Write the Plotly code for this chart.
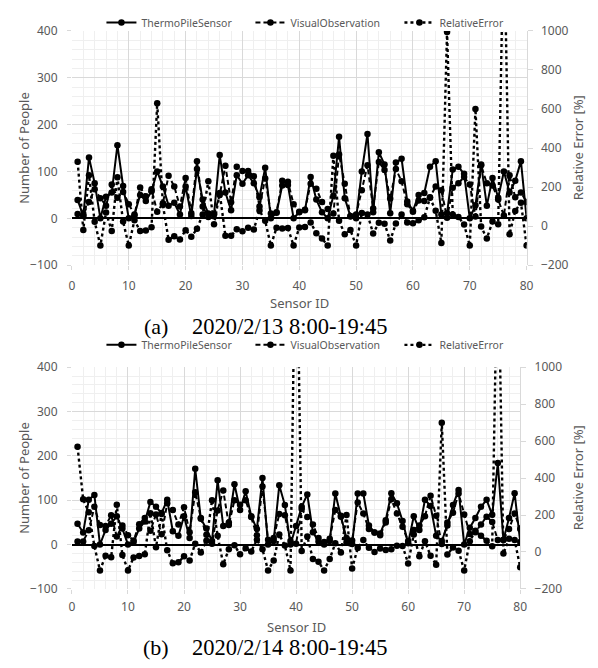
import plotly.graph_objects as go

# ---------------- data ----------------
sensor_ids = list(range(1, 81))

# (a) 2020/2/13
feb13_thermo = [39, 5, 130, 75, 0, 46, 55, 156, 69, 0,
                8, 50, 37, 58, 100, 68, 27, 33, 8, 68,
                5, 105, 40, 10, 9, 135, 55, 17, 92, 74,
                92, 75, 45, 108, 0, 12, 70, 71, 0, 13,
                17, 88, 40, 13, 0, 48, 174, 43, 4, 0,
                100, 180, 13, 141, 115, 11, 119, 127, 36, 16,
                50, 54, 110, 122, 8, 11, 104, 110, 95, 0,
                28, 115, 27, 86, 44, 100, 55, 80, 122, 0]
feb13_visual = [9, 7, 35, 62, 43, 27, 72, 44, 56, 30,
                6, 66, 47, 62, 14, 32, 91, 68, 25, 86,
                11, 122, 25, 3, 8, 50, 112, 34, 110, 101,
                101, 90, 25, 85, 10, 13, 80, 78, 30, 14,
                18, 74, 63, 35, 20, 10, 136, 74, 5, 8,
                60, 113, 21, 120, 103, 42, 105, 79, 30, 14,
                38, 37, 45, 68, 60, 1, 65, 75, 88, 72,
                4, 113, 75, 70, 40, 6, 92, 45, 55, 35]
feb13_relerr = [330, -20, 260, 22, -100, 70, -25, 250, 23, -100,
                30, -25, -22, -6, 630, 110, -70, -52, -68, -21,
                -55, -14, 60, 230, 10, 170, -50, -50, -16, -27,
                -9, -17, 80, 27, -100, -8, -12, -10, -100, -7,
                -5, 19, -37, -63, -100, 360, 28, -42, -20, -100,
                67, 60, -38, 17, 12, -74, 13, 60, 18, 14,
                30, 46, 145, 79, -87, 995, 60, 47, 8, -100,
                600, -2, -64, 23, 10, 1570, -42, 78, 120, -100]

# (b) 2020/2/14
feb14_thermo = [47, 27, 101, 112, 0, 33, 47, 64, 36, 0,
                6, 36, 52, 96, 85, 71, 101, 30, 20, 64,
                15, 171, 58, 36, 8, 145, 42, 50, 136, 78,
                120, 64, 35, 150, 0, 8, 134, 89, 0, 42,
                85, 113, 28, 7, 0, 8, 115, 63, 15, 1,
                115, 115, 43, 27, 25, 55, 116, 93, 53, 3,
                64, 33, 101, 87, 20, 8, 43, 89, 123, 0,
                38, 60, 85, 101, 67, 184, 10, 60, 116, 6]
feb14_visual = [7, 7, 32, 85, 44, 42, 66, 18, 43, 21,
                9, 46, 60, 31, 68, 23, 93, 78, 45, 84,
                28, 118, 60, 22, 2, 77, 122, 44, 100, 90,
                100, 62, 21, 131, 11, 15, 69, 66, 8, 2,
                80, 62, 45, 15, 6, 13, 78, 65, 5, 9,
                95, 70, 35, 27, 21, 50, 102, 70, 40, 8,
                33, 43, 64, 110, 65, 1, 50, 72, 115, 68,
                24, 28, 45, 63, 51, 10, 11, 35, 70, 35]
feb14_relerr = [570, 285, 215, 32, -100, -21, -29, 255, -16, -100,
                -30, -22, -13, 210, 25, 206, 9, -61, -56, -24,
                -46, 45, -3, 61, 280, 88, -66, 14, 36, -13,
                20, 3, 66, 14, -100, -47, 94, 35, -100, 2000,
                5, 84, -38, -53, -100, -38, 47, -3, 200, -89,
                21, 64, 23, 0, 19, 10, 14, 33, 32, -62,
                94, -23, 58, -21, -69, 700, -14, 24, 7, -100,
                58, 115, 88, 60, 31, 1740, -9, 71, 65, -83]

series_names = ["ThermoPileSensor", "VisualObservation", "RelativeError"]
left_ticks = [-100, 0, 100, 200, 300, 400]
right_ticks = [-200, 0, 200, 400, 600, 800, 1000]
x_ticks = [0, 10, 20, 30, 40, 50, 60, 70, 80]
captions = [("(a)", "2020/2/13 8:00-19:45"), ("(b)", "2020/2/14 8:00-19:45")]

# ---------------- layout helpers ----------------
OFF = 8            # default page margin of the html body
W, H = 598 - OFF, 668 - OFF
def fx(p):
    return (p - OFF) / W
def fy(p):
    return 1 - (p - OFF) / H

GRAY = "#595959"
MAJ = "#d9d9d9"
MIN = "#efefef"
FONT = "Noto Sans"

fig = go.Figure()

styles = [dict(dash="solid", width=2), dict(dash="5px,3px", width=2), dict(dash="dot", width=2.4)]

panels = [
    (feb13_thermo, feb13_visual, feb13_relerr, "x", "y", "y2", "legend"),
    (feb14_thermo, feb14_visual, feb14_relerr, "x2", "y3", "y4", "legend2"),
]
for thermo, visual, relerr, xa, ya, ya2, leg in panels:
    for name, vals, st, yref in zip(series_names, [thermo, visual, relerr], styles, [ya, ya, ya2]):
        fig.add_trace(go.Scatter(
            x=sensor_ids, y=vals, name=name, mode="lines+markers",
            line=dict(color="black", width=st["width"], dash=st["dash"]),
            marker=dict(color="black", size=6.5),
            xaxis=xa, yaxis=yref, legend=leg, cliponaxis=True,
        ))

def xaxis_cfg(domain, anchor, standoff):
    return dict(domain=domain, anchor=anchor, range=[0, 80], tickvals=x_ticks,
                showgrid=True, gridcolor=MAJ, gridwidth=1,
                minor=dict(dtick=2, tick0=0, showgrid=True, gridcolor=MIN, gridwidth=1),
                ticks="outside", ticklen=4, tickcolor=MAJ,
                tickfont=dict(family=FONT, size=12, color=GRAY),
                ticklabelstandoff=standoff, zeroline=False, showline=False, fixedrange=True)

def yleft_cfg(domain, anchor):
    return dict(domain=domain, anchor=anchor, range=[-100, 400], tickvals=left_ticks,
                showgrid=True, gridcolor=MAJ, gridwidth=1,
                minor=dict(dtick=20, tick0=0, showgrid=True, gridcolor=MIN, gridwidth=1),
                zeroline=True, zerolinecolor="black", zerolinewidth=1.6,
                ticks="outside", ticklen=4, tickcolor=MAJ,
                tickfont=dict(family=FONT, size=12, color=GRAY),
                ticklabelstandoff=7, showline=False, fixedrange=True)

def yright_cfg(overlay, anchor):
    return dict(overlaying=overlay, anchor=anchor, side="right", range=[-200, 1000],
                tickvals=right_ticks, showgrid=False, zeroline=False,
                showline=True, linecolor=MAJ, linewidth=1,
                ticks="outside", ticklen=5, tickcolor=MAJ,
                tickfont=dict(family=FONT, size=12, color=GRAY),
                ticklabelstandoff=6, fixedrange=True)

legend_cfg = dict(orientation="h", xanchor="left", yanchor="middle",
                  font=dict(family=FONT, size=10.5, color=GRAY),
                  bgcolor="rgba(0,0,0,0)", itemwidth=30, tracegroupgap=0,
                  entrywidth=104, entrywidthmode="pixels")

fig.update_layout(
    width=W, height=H, margin=dict(l=0, r=0, t=0, b=0),
    paper_bgcolor="white", plot_bgcolor="white",
    xaxis=xaxis_cfg([fx(70), fx(532.5)], "y", 5),
    yaxis=yleft_cfg([fy(262.7), fy(22.3)], "x"),
    yaxis2=yright_cfg("y", "x"),
    xaxis2=xaxis_cfg([fx(70), fx(526)], "y3", 3),
    yaxis3=yleft_cfg([fy(595), fy(367.5)], "x2"),
    yaxis4=yright_cfg("y3", "x2"),
    legend=dict(legend_cfg, x=fx(100), y=fy(13.3)),
    legend2=dict(legend_cfg, x=fx(100), y=fy(344.5)),
    showlegend=True,
)

ann = []
def title(text, x, y, angle=0, size=13):
    ann.append(dict(text=text, x=fx(x), y=fy(y), xref="paper", yref="paper",
                    showarrow=False, textangle=angle, xanchor="center", yanchor="middle",
                    font=dict(family=FONT, size=size, color=GRAY)))

for (top, bot, right_edge, sid_y, cap_y), (lab, date) in zip(
        [(22.3, 262.7, 532.5, 301.7, 325.5), (367.5, 595, 526, 634.5, 655)], captions):
    mid = (top + bot) / 2
    title("Number of People", 21, mid, -90)
    title("Relative Error [%]", 585, mid, -90)
    title("Sensor ID", (70 + right_edge) / 2, sid_y)
    ann.append(dict(text=lab, x=fx(155), y=fy(cap_y), xref="paper", yref="paper",
                    showarrow=False, xanchor="center", yanchor="middle",
                    font=dict(family="Liberation Serif", size=22, color="black")))
    ann.append(dict(text=date, x=fx(190), y=fy(cap_y), xref="paper", yref="paper",
                    showarrow=False, xanchor="left", yanchor="middle",
                    font=dict(family="Liberation Serif", size=22.5, color="black")))

fig.update_layout(annotations=ann)
fig.write_html("out.html")
